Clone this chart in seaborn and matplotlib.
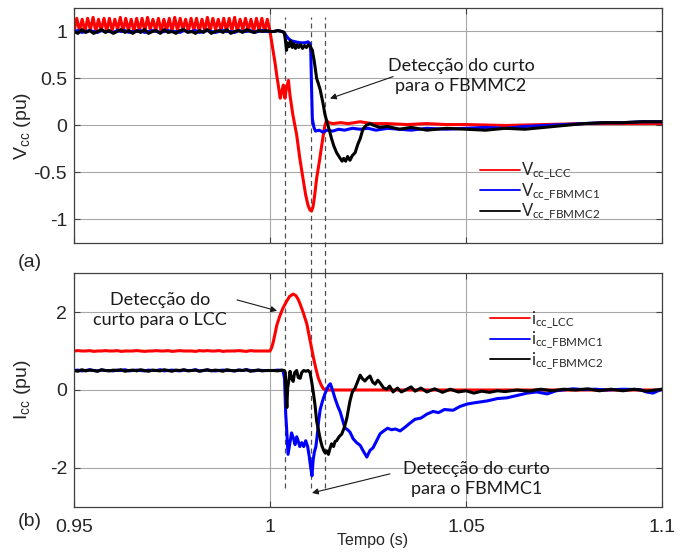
import numpy as np
import matplotlib.pyplot as plt
import seaborn as sns

# ---------------- dados (t em s, valores em pu) ----------------
# amostragem do regime pre-falta
t_pre = np.linspace(0.95, 1.0, 51)
t_rip = np.linspace(0.95, 1.0, 73)

# Vcc LCC: ripple de 12 pulsos antes da falta
vcc_lcc_rip = [1.00, 1.14, 1.01, 1.13, 1.00, 1.14, 1.02, 1.15, 1.00, 1.13, 1.01, 1.14,
               1.00, 1.14, 1.01, 1.13, 1.02, 1.15, 1.00, 1.14, 1.01, 1.13, 1.00, 1.14,
               1.01, 1.14, 1.00, 1.15, 1.02, 1.13, 1.01, 1.14, 1.00, 1.13, 1.01, 1.14,
               1.00, 1.15, 1.01, 1.14, 1.02, 1.13, 1.00, 1.14, 1.01, 1.14, 1.00, 1.13,
               1.01, 1.15, 1.00, 1.14, 1.02, 1.13, 1.01, 1.14, 1.00, 1.14, 1.01, 1.15,
               1.00, 1.13, 1.02, 1.14, 1.01, 1.13, 1.00, 1.14, 1.01, 1.14, 1.00, 1.13,
               1.00]
t_vlcc = [1.0008, 1.0013, 1.0017, 1.0021, 1.0026, 1.0030, 1.0034, 1.0038, 1.0042, 1.0047,
          1.0051, 1.0058, 1.0068, 1.0076, 1.0084, 1.0091, 1.0097, 1.0102, 1.0106, 1.0110,
          1.0114, 1.0119, 1.0126, 1.0132, 1.0136, 1.0140, 1.0144, 1.0150, 1.016, 1.018,
          1.020, 1.023, 1.026, 1.030, 1.035, 1.040, 1.045, 1.050, 1.060, 1.070,
          1.080, 1.090, 1.100]
vcc_lcc = [0.79, 0.66, 0.54, 0.43, 0.29, 0.36, 0.43, 0.29, 0.40, 0.48,
           0.32, 0.12, -0.10, -0.35, -0.56, -0.74, -0.85, -0.90, -0.91, -0.86,
           -0.74, -0.56, -0.38, -0.21, -0.10, 0.00, 0.05, 0.03, 0.02, 0.03,
           0.02, 0.04, 0.02, 0.02, 0.01, 0.02, 0.01, 0.01, 0.00, 0.01,
           0.02, 0.02, 0.02]

vcc_fb1_pre = [1.00, 1.01, 0.99, 1.00, 1.01, 1.00, 0.99, 1.01, 1.00, 1.00,
               0.99, 1.01, 1.00, 1.01, 0.99, 1.00, 1.00, 1.01, 0.99, 1.00,
               1.01, 1.00, 0.99, 1.00, 1.01, 1.00, 1.00, 0.99, 1.01, 1.00,
               1.00, 1.01, 0.99, 1.00, 1.01, 1.00, 0.99, 1.00, 1.01, 1.00,
               1.00, 0.99, 1.01, 1.00, 1.00, 1.01, 0.99, 1.00, 1.01, 1.00, 1.00]
t_vfb1 = [1.0010, 1.0020, 1.0030, 1.0036, 1.0042, 1.0048, 1.0055, 1.0065, 1.0077, 1.0090,
          1.0097, 1.0102, 1.0104, 1.0106, 1.0108, 1.0112, 1.0116, 1.0125, 1.0135, 1.0145,
          1.0160, 1.0175, 1.0190, 1.0210, 1.0230, 1.0250, 1.0270, 1.0300, 1.0330, 1.0360,
          1.0400, 1.0450, 1.0500, 1.0550, 1.0600, 1.0650, 1.0700, 1.0750, 1.0800, 1.0850,
          1.0900, 1.0950, 1.1000]
vcc_fb1 = [1.00, 1.01, 1.00, 0.99, 0.95, 0.92, 0.90, 0.89, 0.88, 0.88,
           0.89, 0.87, 0.78, 0.40, 0.07, -0.02, -0.06, -0.05, -0.07, -0.05,
           -0.06, -0.04, -0.05, -0.03, -0.04, -0.03, -0.05, -0.03, -0.04, -0.05,
           -0.03, -0.04, -0.03, -0.02, -0.03, -0.01, 0.00, 0.01, 0.02, 0.03,
           0.03, 0.04, 0.04]

vcc_fb2_pre = [1.00, 0.98, 1.02, 0.99, 1.01, 0.98, 1.00, 1.02, 0.99, 1.01,
               0.98, 1.00, 1.02, 0.99, 1.01, 0.98, 1.01, 0.99, 1.02, 0.98,
               1.00, 1.01, 0.98, 1.02, 0.99, 1.00, 0.98, 1.01, 1.02, 0.99,
               1.00, 0.98, 1.01, 0.99, 1.02, 0.98, 1.00, 1.01, 0.99, 1.02,
               0.98, 1.00, 1.01, 0.99, 1.02, 1.00, 0.99, 1.01, 1.00, 1.01, 1.00]
t_vfb2 = [1.0010, 1.0020, 1.0030, 1.0036, 1.0039, 1.0042, 1.0045, 1.0049, 1.0053, 1.0057,
          1.0061, 1.0065, 1.0069, 1.0073, 1.0078, 1.0083, 1.0088, 1.0093, 1.0098, 1.0103,
          1.0108, 1.0113, 1.0119, 1.0123, 1.0128, 1.0135, 1.0140, 1.0145, 1.0150, 1.0157,
          1.0163, 1.0170, 1.0179, 1.0184, 1.0188, 1.0193, 1.0198, 1.0204, 1.0210, 1.0217,
          1.0224, 1.0230, 1.0237, 1.0245, 1.0255, 1.0265, 1.0280, 1.0300, 1.0330, 1.0360,
          1.0400, 1.0450, 1.0500, 1.0550, 1.0600, 1.0650, 1.0700, 1.0750, 1.0800, 1.0850,
          1.0900, 1.0950, 1.1000]
vcc_fb2 = [1.00, 1.01, 1.00, 0.99, 0.92, 0.80, 0.88, 0.84, 0.90, 0.83,
           0.87, 0.82, 0.86, 0.83, 0.86, 0.82, 0.85, 0.83, 0.86, 0.84,
           0.80, 0.68, 0.50, 0.45, 0.38, 0.24, 0.12, 0.04, -0.03, -0.14,
           -0.22, -0.29, -0.35, -0.38, -0.35, -0.38, -0.33, -0.37, -0.32, -0.29,
           -0.20, -0.14, -0.04, 0.00, 0.02, 0.00, -0.02, -0.01, -0.04, -0.02,
           -0.05, -0.03, -0.04, -0.05, -0.03, -0.04, -0.02, 0.00, 0.02, 0.03,
           0.03, 0.04, 0.04]

# correntes
icc_lcc_pre = [1.00, 1.01, 1.00, 1.00, 1.01, 0.99, 1.00, 1.00, 1.01, 1.00,
               1.00, 1.01, 0.99, 1.00, 1.00, 1.00, 1.01, 1.00, 0.99, 1.00,
               1.00, 1.01, 1.00, 1.00, 1.01, 0.99, 1.00, 1.01, 1.00, 1.00,
               1.00, 0.99, 1.01, 1.00, 1.01, 1.00, 1.00, 1.01, 0.99, 1.00,
               1.00, 1.00, 1.01, 1.00, 0.99, 1.01, 1.00, 1.00, 1.00, 1.00, 1.00]
t_ilcc = [1.0004, 1.0008, 1.0013, 1.0017, 1.0025, 1.0033, 1.0042, 1.0050, 1.0059, 1.0066,
          1.0072, 1.0077, 1.0085, 1.0094, 1.0102, 1.0111, 1.0117, 1.0123, 1.0130, 1.0136,
          1.0142, 1.0150, 1.0170, 1.0200, 1.0250, 1.0300, 1.0400, 1.0500, 1.0600, 1.0700,
          1.0800, 1.0900, 1.1000]
icc_lcc = [1.08, 1.22, 1.45, 1.65, 1.90, 2.10, 2.27, 2.40, 2.46, 2.42,
           2.32, 2.20, 1.98, 1.69, 1.28, 0.82, 0.55, 0.31, 0.14, 0.03,
           0.00, 0.00, 0.00, 0.00, 0.00, 0.00, 0.00, 0.00, 0.00, 0.00,
           0.00, 0.00, 0.00]

icc_fb1_pre = [0.50, 0.51, 0.49, 0.50, 0.52, 0.50, 0.49, 0.51, 0.50, 0.50,
               0.49, 0.51, 0.50, 0.52, 0.49, 0.50, 0.51, 0.50, 0.49, 0.51,
               0.50, 0.50, 0.52, 0.49, 0.50, 0.51, 0.50, 0.49, 0.51, 0.50,
               0.50, 0.52, 0.49, 0.50, 0.51, 0.50, 0.49, 0.50, 0.51, 0.50,
               0.50, 0.49, 0.51, 0.50, 0.52, 0.50, 0.49, 0.51, 0.50, 0.50, 0.50]
t_ifb1 = [1.0010, 1.0020, 1.0033, 1.0037, 1.0040, 1.0043, 1.0046, 1.0050, 1.0055, 1.0060,
          1.0064, 1.0068, 1.0071, 1.0076, 1.0081, 1.0086, 1.0091, 1.0096, 1.0100, 1.0104,
          1.0107, 1.0110, 1.0113, 1.0117, 1.0120, 1.0124, 1.0128, 1.0134, 1.0140, 1.0145,
          1.0150, 1.0154, 1.0160, 1.0166, 1.0173, 1.0179, 1.0186, 1.0191, 1.0198, 1.0204,
          1.0212, 1.0221, 1.0230, 1.0237, 1.0247, 1.0255, 1.0263, 1.0272, 1.0281, 1.0290,
          1.0300, 1.0310, 1.0320, 1.0332, 1.0345, 1.0357, 1.0370, 1.0385, 1.0400, 1.0416,
          1.0430, 1.0445, 1.0467, 1.0485, 1.0503, 1.0520, 1.0540, 1.0554, 1.0580, 1.0605,
          1.0630, 1.0656, 1.0680, 1.0707, 1.0730, 1.0773, 1.0800, 1.0830, 1.0860, 1.0900,
          1.0944, 1.0960, 1.0977, 1.0990, 1.1000]
icc_fb1 = [0.50, 0.51, 0.50, 0.30, -0.60, -1.10, -1.65, -1.40, -1.10, -1.25,
           -1.40, -1.20, -1.28, -1.45, -1.35, -1.45, -1.30, -1.45, -1.70, -2.00,
           -2.20, -1.80, -1.60, -1.45, -1.20, -0.80, -0.50, -0.28, -0.10, 0.02,
           0.12, 0.16, -0.02, -0.22, -0.42, -0.56, -0.80, -0.97, -1.02, -1.08,
           -1.25, -1.35, -1.42, -1.55, -1.72, -1.55, -1.48, -1.30, -1.12, -1.05,
           -0.98, -1.02, -1.00, -1.05, -0.95, -0.85, -0.75, -0.72, -0.62, -0.55,
           -0.58, -0.50, -0.52, -0.42, -0.36, -0.33, -0.30, -0.28, -0.22, -0.20,
           -0.14, -0.08, -0.05, -0.10, -0.02, 0.03, 0.01, 0.02, 0.00, 0.02,
           0.01, -0.05, -0.08, -0.02, 0.02]

icc_fb2_pre = [0.50, 0.48, 0.52, 0.49, 0.51, 0.50, 0.48, 0.52, 0.50, 0.49,
               0.51, 0.50, 0.52, 0.48, 0.50, 0.51, 0.49, 0.52, 0.50, 0.48,
               0.51, 0.50, 0.49, 0.52, 0.50, 0.48, 0.51, 0.50, 0.52, 0.49,
               0.50, 0.51, 0.48, 0.50, 0.52, 0.49, 0.51, 0.50, 0.48, 0.52,
               0.50, 0.49, 0.51, 0.50, 0.52, 0.48, 0.50, 0.51, 0.49, 0.50, 0.50]
t_ifb2 = [1.0010, 1.0020, 1.0030, 1.0036, 1.0039, 1.0041, 1.0043, 1.0045, 1.0048, 1.0051,
          1.0055, 1.0059, 1.0063, 1.0068, 1.0072, 1.0077, 1.0081, 1.0086, 1.0091, 1.0097,
          1.0102, 1.0106, 1.0111, 1.0115, 1.0119, 1.0124, 1.0129, 1.0133, 1.0137, 1.0141,
          1.0145, 1.0149, 1.0153, 1.0157, 1.0162, 1.0166, 1.0170, 1.0176, 1.0183, 1.0190,
          1.0196, 1.0200, 1.0204, 1.0210, 1.0217, 1.0223, 1.0230, 1.0235, 1.0242, 1.0248,
          1.0255, 1.0262, 1.0268, 1.0275, 1.0281, 1.0290, 1.0298, 1.0305, 1.0314, 1.0325,
          1.0335, 1.0349, 1.0360, 1.0370, 1.0385, 1.0400, 1.0420, 1.0440, 1.0460, 1.0480,
          1.0500, 1.0520, 1.0540, 1.0560, 1.0580, 1.0600, 1.0630, 1.0660, 1.0690, 1.0720,
          1.0750, 1.0780, 1.0810, 1.0840, 1.0870, 1.0900, 1.0930, 1.0960, 1.1000]
icc_fb2 = [0.50, 0.49, 0.51, 0.50, 0.45, -0.10, -0.45, 0.05, 0.25, 0.48,
           0.30, 0.22, 0.45, 0.50, 0.32, 0.30, 0.45, 0.50, 0.48, 0.50,
           0.45, 0.23, -0.10, -0.40, -0.80, -1.05, -1.30, -1.45, -1.55, -1.62,
           -1.56, -1.65, -1.50, -1.38, -1.45, -1.32, -1.30, -1.20, -1.13, -0.95,
           -0.72, -0.50, -0.28, -0.05, 0.05, 0.20, 0.38, 0.30, 0.23, 0.30,
           0.36, 0.20, 0.15, 0.25, 0.18, 0.05, 0.02, 0.10, -0.05, 0.05,
           -0.05, 0.02, 0.08, -0.03, 0.05, -0.05, 0.03, -0.06, 0.02, -0.05,
           -0.02, -0.08, -0.03, -0.06, -0.02, -0.04, 0.00, -0.03, 0.02, -0.02,
           0.02, 0.00, 0.03, -0.02, 0.02, -0.02, 0.02, -0.03, 0.02]

# instantes de deteccao (linhas tracejadas)
t_detect = [1.0038, 1.0105, 1.0141]

x_ticks = [0.95, 1.0, 1.05, 1.1]
x_ticklabels = ['0.95', '1', '1.05', '1.1']
v_ticks = [-1, -0.5, 0, 0.5, 1]
v_ticklabels = ['-1', '-0.5', '0', '0.5', '1']
i_ticks = [-2, 0, 2]
i_ticklabels = ['-2', '0', '2']

# ---------------- figura ----------------
sns.set_style('ticks')
plt.rcParams['font.family'] = ['Liberation Sans', 'DejaVu Sans']
plt.rcParams['mathtext.default'] = 'regular'

RED, BLUE, BLACK = '#ff0000', '#0000ff', '#000000'
LW = 2.2
ann_font = dict(family=['Lato', 'DejaVu Sans'], size=13, color='#1a1a1a')

fig = plt.figure(figsize=(6.81, 5.55), dpi=100)
ax1 = fig.add_axes([0.1087, 0.5622, 0.8634, 0.4234])
ax2 = fig.add_axes([0.1087, 0.0865, 0.8634, 0.4216])


def curve(ax, t, v, color, label):
    sns.lineplot(x=t, y=v, ax=ax, color=color, linewidth=LW,
                 estimator=None, sort=False, label=label)


curve(ax1, np.r_[t_rip, t_vlcc], np.r_[vcc_lcc_rip, vcc_lcc], RED, r'V$_{cc\_LCC}$')
curve(ax1, np.r_[t_pre, t_vfb1], np.r_[vcc_fb1_pre, vcc_fb1], BLUE, r'V$_{cc\_FBMMC1}$')
curve(ax1, np.r_[t_pre, t_vfb2], np.r_[vcc_fb2_pre, vcc_fb2], BLACK, r'V$_{cc\_FBMMC2}$')

curve(ax2, np.r_[t_pre, t_ilcc], np.r_[icc_lcc_pre, icc_lcc], RED, r'i$_{cc\_LCC}$')
curve(ax2, np.r_[t_pre, t_ifb1], np.r_[icc_fb1_pre, icc_fb1], BLUE, r'i$_{cc\_FBMMC1}$')
curve(ax2, np.r_[t_pre, t_ifb2], np.r_[icc_fb2_pre, icc_fb2], BLACK, r'i$_{cc\_FBMMC2}$')

for ax, yt, ytl, ylim in [(ax1, v_ticks, v_ticklabels, (-1.25, 1.25)),
                          (ax2, i_ticks, i_ticklabels, (-3, 3))]:
    ax.set_xlim(0.95, 1.1)
    ax.set_ylim(*ylim)
    ax.set_xticks(x_ticks)
    ax.set_yticks(yt)
    ax.set_yticklabels(ytl)
    ax.grid(True, color='#a8a8a8', lw=0.8)
    ax.set_axisbelow(True)
    for s in ax.spines.values():
        s.set_color('#404040')
        s.set_linewidth(0.9)
    ax.tick_params(direction='in', length=4, width=0.8, top=True, right=True,
                   labelsize=14, labelcolor='#262626', color='#404040')
    ax.tick_params(axis='y', pad=5)
    ax.tick_params(axis='x', pad=9)

ax1.set_xticklabels([])
ax2.set_xticklabels(x_ticklabels)

ax1.set_ylabel(r'V$_{cc}$ (pu)', fontsize=14, color='#262626')
ax2.set_ylabel(r'I$_{cc}$ (pu)', fontsize=14, color='#262626')
ax1.yaxis.set_label_coords(-0.07, 0.5)
ax2.yaxis.set_label_coords(-0.07, 0.5)
ax2.set_xlabel('Tempo (s)', fontsize=11.5, color='#262626')
ax2.xaxis.set_label_coords(0.5085, -0.11)

# linhas tracejadas de deteccao, passando pelo espaco entre os paineis
for t in t_detect:
    ax1.axvline(t, ymin=-0.128, ymax=0.962, clip_on=False, color='#505050',
                lw=0.9, ls=(0, (4, 3)), zorder=1.5)
    ax2.axvline(t, ymin=0.081, ymax=1.0, clip_on=False, color='#505050',
                lw=0.9, ls=(0, (4, 3)), zorder=1.5)

# legendas
for ax, anchor in [(ax1, (0.69, 0.35)), (ax2, (0.707, 0.845))]:
    leg = ax.legend(loc='upper left', bbox_to_anchor=anchor, frameon=False,
                    prop=dict(family=['Lato', 'DejaVu Sans'], size=12),
                    handlelength=2.4, handletextpad=0.1, labelspacing=-0.05,
                    borderpad=0, borderaxespad=0)
    for h in leg.get_lines():
        h.set_linewidth(1.3)

# anotacoes
arrow = dict(arrowstyle='-|>', color='#1a1a1a', lw=0.8, mutation_scale=9,
             shrinkA=0, shrinkB=0)
ax1.text(1.0487, 0.527, 'Detecção do curto\npara o FBMMC2', ha='center',
         va='center', linespacing=1.25, **ann_font)
ax1.annotate('', xy=(1.0153, 0.287), xytext=(1.0314, 0.52), arrowprops=arrow)

ax2.text(0.9719, 2.05, 'Detecção do\ncurto para o LCC', ha='center',
         va='center', linespacing=1.25, **ann_font)
ax2.annotate('', xy=(1.0018, 2.03), xytext=(0.9916, 2.31), arrowprops=arrow)

ax2.text(1.0526, -2.28, 'Detecção do curto\npara o FBMMC1', ha='center',
         va='center', linespacing=1.25, **ann_font)
ax2.annotate('', xy=(1.0107, -2.64), xytext=(1.0306, -2.15), arrowprops=arrow)

fig.text(30 / 681, 1 - 262 / 555, '(a)', ha='center', va='center',
         fontsize=14, color='#262626')
fig.text(30 / 681, 1 - 522 / 555, '(b)', ha='center', va='center',
         fontsize=14, color='#262626')

fig.savefig('out.png', dpi=100)
